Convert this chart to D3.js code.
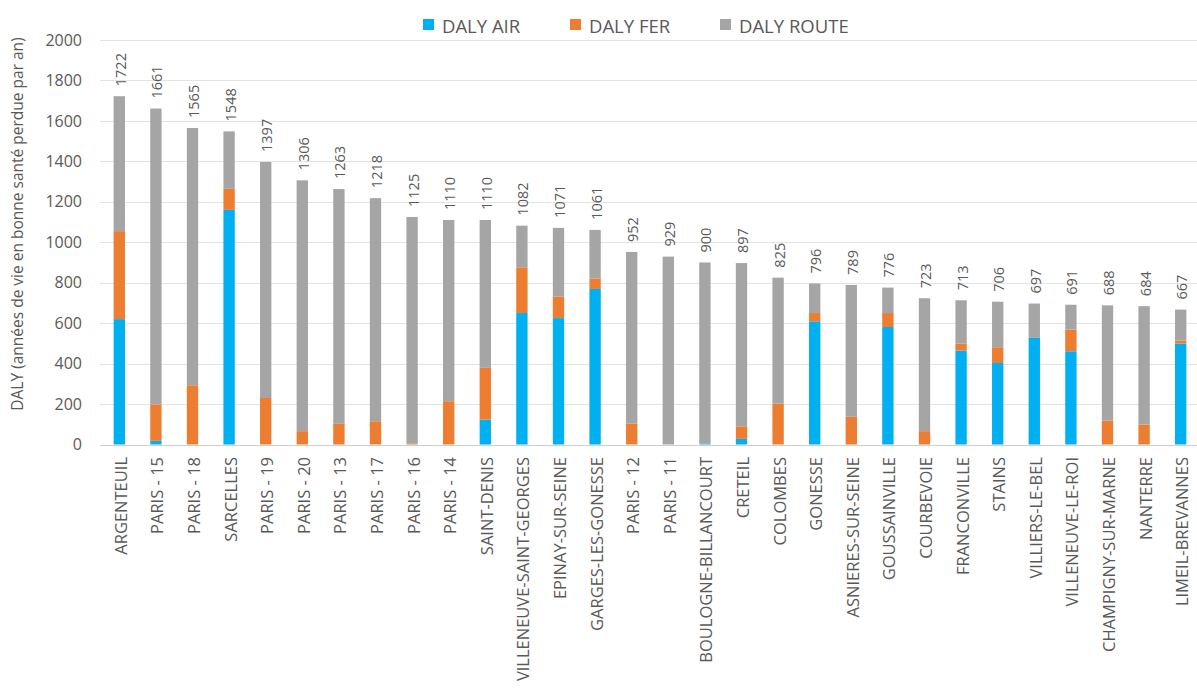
<!DOCTYPE html>
<html>
<head>
<meta charset="utf-8">
<script src="https://cdn.jsdelivr.net/npm/d3@7"></script>
<style>
  body { margin: 0; background: #fff; }
  text { font-family: "Open Sans", sans-serif; fill: #595959; }
</style>
</head>
<body>
<svg id="chart" width="1197" height="693"></svg>
<script>
// communes, sorted by total DALY
var communes = ['ARGENTEUIL', 'PARIS - 15', 'PARIS - 18', 'SARCELLES', 'PARIS - 19', 'PARIS - 20',
  'PARIS - 13', 'PARIS - 17', 'PARIS - 16', 'PARIS - 14', 'SAINT-DENIS', 'VILLENEUVE-SAINT-GEORGES',
  'EPINAY-SUR-SEINE', 'GARGES-LES-GONESSE', 'PARIS - 12', 'PARIS - 11', 'BOULOGNE-BILLANCOURT',
  'CRETEIL', 'COLOMBES', 'GONESSE', 'ASNIERES-SUR-SEINE', 'GOUSSAINVILLE', 'COURBEVOIE',
  'FRANCONVILLE', 'STAINS', 'VILLIERS-LE-BEL', 'VILLENEUVE-LE-ROI', 'CHAMPIGNY-SUR-MARNE',
  'NANTERRE', 'LIMEIL-BREVANNES']

var dalyAir = [620, 18, 0, 1160, 0, 0, 0, 0, 0, 0, 123, 650, 625, 769, 0, 0, 5, 28, 0, 609,
  0, 581, 0, 464, 403, 527, 461, 0, 0, 499]
var dalyFer = [435, 180, 293, 104, 230, 66, 102, 115, 4, 214, 256, 226, 107, 52, 104, 0, 0, 62, 202, 41,
  137, 69, 66, 35, 78, 0, 107, 118, 99, 15]
var totals = [1722, 1661, 1565, 1548, 1397, 1306, 1263, 1218, 1125, 1110, 1110, 1082, 1071, 1061, 952,
  929, 900, 897, 825, 796, 789, 776, 723, 713, 706, 697, 691, 688, 684, 667]
// route = total - air - fer
var dalyRoute = totals.map(function (t, i) { return t - dalyAir[i] - dalyFer[i] })

var yTicks = [0, 200, 400, 600, 800, 1000, 1200, 1400, 1600, 1800, 2000]
var seriesNames = ['DALY AIR', 'DALY FER', 'DALY ROUTE']
var colors = ['#00B0F0', '#ED7D31', '#A5A5A5']

var svg = d3.select('#chart')

var x = d3.scaleBand()
  .domain(communes)
  .range([101, 1199])
  .paddingInner(0.69)
  .paddingOuter(0.345)

var y = d3.scaleLinear()
  .domain([0, 2000])
  .range([444.5, 40])

// Grid
svg.append('g')
  .selectAll('line')
  .data(yTicks)
  .enter().append('line')
  .attr('x1', 100)
  .attr('x2', 1197)
  .attr('y1', function (d) { return Math.round(y(d)) + 0.5 })
  .attr('y2', function (d) { return Math.round(y(d)) + 0.5 })
  .attr('stroke', function (d) { return d === 0 ? '#d0d0d0' : '#e3e3e3' })
  .attr('stroke-width', 1)

// y axis labels
svg.append('g')
  .attr('transform', 'translate(82,0)')
  .call(d3.axisLeft(y).tickValues(yTicks).tickFormat(d3.format('d')).tickSize(0).tickPadding(0))
  .call(function (g) { g.select('.domain').remove() })
  .selectAll('text')
  .style('font-family', '"Open Sans", sans-serif')
  .style('font-size', '16px')
  .attr('fill', '#595959')

svg.append('text')
  .attr('transform', 'translate(23,' + 224 + ') rotate(-90)')
  .attr('text-anchor', 'middle')
  .style('font-size', '15.5px')
  .text('DALY (années de vie en bonne santé perdue par an)')

// stacked bars
var rows = communes.map(function (c, i) {
  return { commune: c, air: dalyAir[i], fer: dalyFer[i], route: dalyRoute[i] }
})
var stack = d3.stack().keys(['air', 'fer', 'route'])(rows)

svg.append('g')
  .selectAll('g')
  .data(stack)
  .enter().append('g')
  .attr('fill', function (d, i) { return colors[i] })
  .selectAll('rect')
  .data(function (d) { return d })
  .enter().append('rect')
  .attr('x', function (d) { return x(d.data.commune) })
  .attr('width', x.bandwidth())
  .attr('y', function (d) { return y(d[1]) })
  .attr('height', function (d) { return y(d[0]) - y(d[1]) })

// total labels
svg.append('g')
  .selectAll('text')
  .data(communes)
  .enter().append('text')
  .attr('transform', function (d, i) {
    return 'translate(' + (x(d) + x.bandwidth() / 2 + 1) + ',' + (y(totals[i]) - 10) + ') rotate(-90)'
  })
  .attr('dominant-baseline', 'central')
  .style('font-size', '14.5px')
  .text(function (d, i) { return totals[i] })

// x labels
svg.append('g')
  .selectAll('text')
  .data(communes)
  .enter().append('text')
  .attr('transform', function (d) {
    return 'translate(' + (x(d) + x.bandwidth() / 2 + 1) + ',457) rotate(-90)'
  })
  .attr('text-anchor', 'end')
  .attr('dominant-baseline', 'central')
  .style('font-size', '16.5px')
  .text(function (d) { return d })

// legend
var legendX = [423, 570, 720]
var legend = svg.append('g')
  .selectAll('g')
  .data(seriesNames)
  .enter().append('g')
  .attr('transform', function (d, i) { return 'translate(' + legendX[i] + ',19)' })
legend.append('rect')
  .attr('width', 11)
  .attr('height', 11)
  .attr('fill', function (d, i) { return colors[i] })
legend.append('text')
  .attr('x', 19)
  .attr('y', 6)
  .attr('dominant-baseline', 'central')
  .style('font-size', '18.5px')
  .text(function (d) { return d })
</script>
</body>
</html>
